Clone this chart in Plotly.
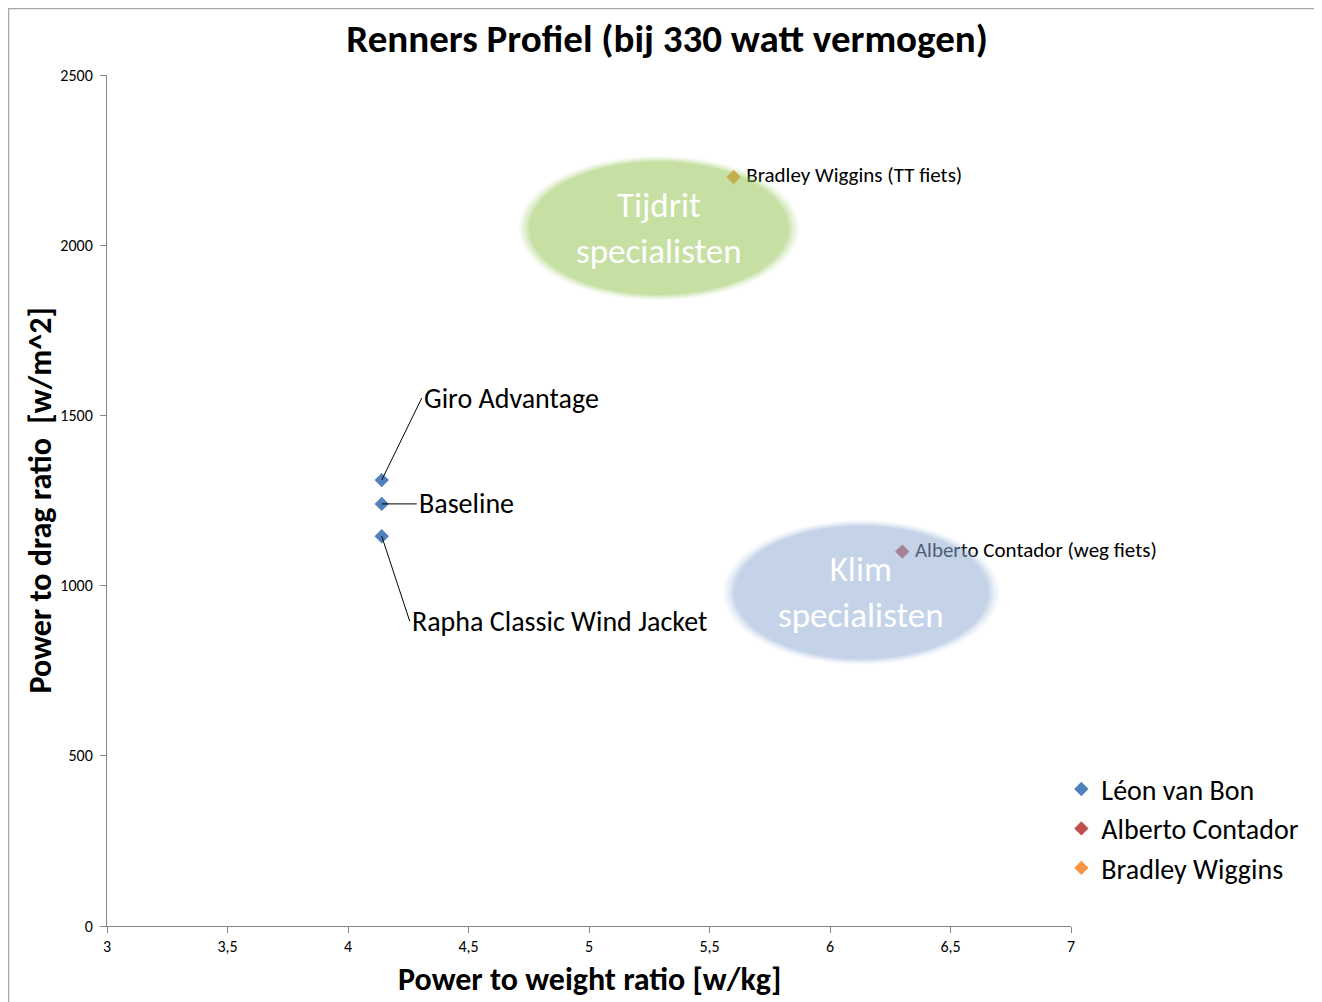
import plotly.graph_objects as go

# data
leon_x = [4.14, 4.14, 4.14]
leon_y = [1310, 1240, 1145]
leon_labels = ["Giro Advantage", "Baseline", "Rapha Classic Wind Jacket"]

contador_x = [6.3]
contador_y = [1100]
contador_label = ["\u00a0Alberto Contador (weg fiets)"]

wiggins_x = [5.6]
wiggins_y = [2200]
wiggins_label = ["\u00a0Bradley Wiggins (TT fiets)"]

# groups drawn as soft ellipses: name, centre x, centre y, half width, half height
groups = [
    ("Tijdrit<br>specialisten", 5.29, 2050, 0.55, 200, (150, 200, 85)),
    ("Klim<br>specialisten", 6.13, 980, 0.54, 200, (145, 176, 214)),
]

x_ticks = [3, 3.5, 4, 4.5, 5, 5.5, 6, 6.5, 7]
y_ticks = [0, 500, 1000, 1500, 2000, 2500]

FONT = "Carlito, Lato, sans-serif"

fig = go.Figure()

fig.add_trace(go.Scatter(
    x=leon_x, y=leon_y, mode="markers", name="Léon van Bon",
    marker=dict(symbol="diamond", size=11, color="#4F81BD"),
))
fig.add_trace(go.Scatter(
    x=contador_x, y=contador_y, mode="markers+text", name="Alberto Contador",
    text=contador_label, textposition="middle right", cliponaxis=False,
    textfont=dict(size=21, color="black", family=FONT),
    marker=dict(symbol="diamond", size=11, color="#C0504D"),
))
fig.add_trace(go.Scatter(
    x=wiggins_x, y=wiggins_y, mode="markers+text", name="Bradley Wiggins",
    text=wiggins_label, textposition="middle right", cliponaxis=False,
    textfont=dict(size=21, color="black", family=FONT),
    marker=dict(symbol="diamond", size=11, color="#F79646"),
))

# soft edged ellipses, stacked layers on top of the data
shapes = []
for label, cx, cy, rx, ry, rgb in groups:
    scales = [1.06, 1.04, 1.02, 1.0, 0.98]
    alphas = [0.08, 0.1, 0.12, 0.2, 0.2]
    for s, a in zip(scales, alphas):
        shapes.append(dict(
            type="circle", xref="x", yref="y", layer="above",
            x0=cx - rx * s, x1=cx + rx * s, y0=cy - ry * s, y1=cy + ry * s,
            fillcolor="rgba(%d,%d,%d,%.2f)" % (rgb + (a,)), line=dict(width=0),
        ))

# chart area border (page has an 8px body margin)
shapes.append(dict(
    type="rect", xref="paper", yref="paper", x0=-0.1022, x1=1.4, y0=-0.3, y1=1.078,
    line=dict(color="#A6A6A6", width=1.5), layer="below",
))

annotations = []
for label, cx, cy, rx, ry, rgb in groups:
    annotations.append(dict(
        x=cx, y=cy, xref="x", yref="y", text=label, showarrow=False,
        font=dict(size=35, color="white", family=FONT),
    ))

# leader lines for the jacket labels
offsets = [(40, -82), (35, 0), (28, 85)]
for lx, ly, lab, (ax, ay) in zip(leon_x, leon_y, leon_labels, offsets):
    annotations.append(dict(
        x=lx, y=ly, xref="x", yref="y", text=lab, showarrow=True,
        ax=ax, ay=ay, xanchor="left", arrowhead=0, arrowwidth=1,
        arrowcolor="black", font=dict(size=28, color="black", family=FONT),
    ))

# axis titles
annotations.append(dict(
    x=0.5, y=-0.0623, xref="paper", yref="paper", showarrow=False,
    text="<b>Power to weight ratio [w/kg]</b>", yanchor="middle",
    font=dict(size=32, family=FONT, color="black"),
))
annotations.append(dict(
    x=-0.0695, y=0.5, xref="paper", yref="paper", showarrow=False,
    text="<b>Power to drag ratio  [w/m^2]</b>", textangle=-90, xanchor="center",
    font=dict(size=32, family=FONT, color="black"),
))

fig.update_layout(
    width=1314, height=994,
    margin=dict(l=99, r=251, t=67, b=76),
    paper_bgcolor="white", plot_bgcolor="white",
    separators=",.",
    font=dict(family=FONT, color="black"),
    title=dict(
        text="<b>Renners Profiel (bij 330 watt vermogen)</b>",
        font=dict(size=39, family=FONT, color="black"),
        x=0.581, xref="paper", xanchor="center",
        y=1 - 30 / 994, yref="container", yanchor="middle",
    ),
    legend=dict(
        x=0.99, y=0.19, xanchor="left", yanchor="top",
        font=dict(size=28, family=FONT, color="black"),
        bgcolor="rgba(0,0,0,0)",
    ),
    shapes=shapes,
    annotations=annotations,
)

fig.update_xaxes(
    range=[3, 7], tickvals=x_ticks, showgrid=False, zeroline=False,
    showline=True, linecolor="#868686", linewidth=1,
    ticks="outside", ticklen=6, tickcolor="#868686",
    tickfont=dict(size=16, family=FONT, color="black"),
)
fig.update_yaxes(
    range=[0, 2500], tickvals=y_ticks, showgrid=False, zeroline=False,
    showline=True, linecolor="#868686", linewidth=1,
    ticks="outside", ticklen=6, tickcolor="#868686", ticklabelstandoff=4,
    tickfont=dict(size=16, family=FONT, color="black"),
)

fig.write_html("out.html")
